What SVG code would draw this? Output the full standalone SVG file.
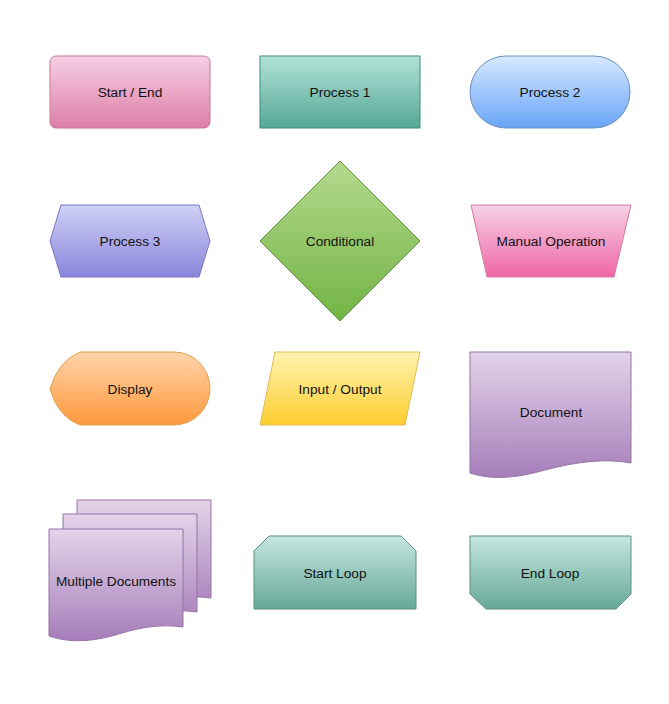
<svg xmlns="http://www.w3.org/2000/svg" width="669" height="704" viewBox="0 0 669 704">
<defs>
<linearGradient id="gPink" x1="0" y1="0" x2="0" y2="1"><stop offset="0" stop-color="#f6d0e4"/><stop offset="1" stop-color="#dc7ea6"/></linearGradient>
<linearGradient id="gTeal" x1="0" y1="0" x2="0" y2="1"><stop offset="0" stop-color="#b2e3d7"/><stop offset="1" stop-color="#56a797"/></linearGradient>
<linearGradient id="gBlue" x1="0" y1="0" x2="0" y2="1"><stop offset="0" stop-color="#d7e8ff"/><stop offset="1" stop-color="#68a5f7"/></linearGradient>
<linearGradient id="gViolet" x1="0" y1="0" x2="0" y2="1"><stop offset="0" stop-color="#d0d1f5"/><stop offset="1" stop-color="#8985db"/></linearGradient>
<linearGradient id="gGreen" x1="0" y1="0" x2="0" y2="1"><stop offset="0" stop-color="#b4d98d"/><stop offset="1" stop-color="#72b444"/></linearGradient>
<linearGradient id="gMagenta" x1="0" y1="0" x2="0" y2="1"><stop offset="0" stop-color="#f6d2e5"/><stop offset="1" stop-color="#ee66a7"/></linearGradient>
<linearGradient id="gOrange" x1="0" y1="0" x2="0" y2="1"><stop offset="0" stop-color="#ffd4aa"/><stop offset="1" stop-color="#ff993c"/></linearGradient>
<linearGradient id="gYellow" x1="0" y1="0" x2="0" y2="1"><stop offset="0" stop-color="#fff4b2"/><stop offset="1" stop-color="#ffcd2e"/></linearGradient>
<linearGradient id="gPurple" x1="0" y1="0" x2="0" y2="1"><stop offset="0" stop-color="#e3d3e9"/><stop offset="1" stop-color="#a67eba"/></linearGradient>
<linearGradient id="gLoop" x1="0" y1="0" x2="0" y2="1"><stop offset="0" stop-color="#c6e7df"/><stop offset="1" stop-color="#66a898"/></linearGradient>
</defs>
<style>
text{font-family:"Liberation Sans",Arial,Helvetica,sans-serif;font-size:13.7px;fill:#111;text-anchor:middle}
.pink{fill:url(#gPink);stroke:#c5799c;stroke-width:1}
.teal{fill:url(#gTeal);stroke:#3f8c7c;stroke-width:1}
.blue{fill:url(#gBlue);stroke:#6c8ebf;stroke-width:1}
.violet{fill:url(#gViolet);stroke:#7a76c4;stroke-width:1}
.green{fill:url(#gGreen);stroke:#5f9337;stroke-width:1}
.magenta{fill:url(#gMagenta);stroke:#d27ba3;stroke-width:1}
.orange{fill:url(#gOrange);stroke:#e09f4e;stroke-width:1}
.yellow{fill:url(#gYellow);stroke:#dcbc58;stroke-width:1}
.purple{fill:url(#gPurple);stroke:#9673a6;stroke-width:1}
.loop{fill:url(#gLoop);stroke:#5c9080;stroke-width:1}
</style>
<rect width="669" height="704" fill="#ffffff"/>
<g id="start-end">
<rect class="pink" x="50" y="56" width="160" height="72" rx="6" ry="6"/>
<text x="130" y="97">Start / End</text>
</g>
<g id="process-1">
<rect class="teal" x="260" y="56" width="160" height="72"/>
<text x="340" y="97">Process 1</text>
</g>
<g id="process-2">
<rect class="blue" x="470" y="56" width="160" height="72" rx="36" ry="36"/>
<text x="550" y="97">Process 2</text>
</g>
<g id="process-3">
<polygon class="violet" points="61,205 199,205 210,241 199,277 61,277 50,241"/>
<text x="130" y="246">Process 3</text>
</g>
<g id="conditional">
<polygon class="green" points="340,161 420,241 340,321 260,241"/>
<text x="340" y="246">Conditional</text>
</g>
<g id="manual-operation">
<polygon class="magenta" points="471,205 631,205 614,277 487,277"/>
<text x="551" y="246">Manual Operation</text>
</g>
<g id="display">
<path class="orange" d="M80,352 L174,352 A36,36.5 0 0 1 174,425 L80,425 Q58,417 50,389 Q58,361 80,352 Z"/>
<text x="130" y="394">Display</text>
</g>
<g id="input-output">
<polygon class="yellow" points="275,352 420,352 405,425 260,425"/>
<text x="340" y="394">Input / Output</text>
</g>
<g id="document">
<path class="purple" d="M470,352 H631 V463 C605,458 575,462 545,470 C520,477 495,481 470,473 Z"/>
<text x="551" y="417">Document</text>
</g>
<g id="multiple-documents">
<path class="purple" d="M77,500 H211 V598 C190,595 170,598 150,604 C125,611 100,614 77,608 Z"/>
<path class="purple" d="M63,514 H197 V612 C176,609 156,612 136,618 C111,625 86,628 63,622 Z"/>
<path class="purple" d="M49,529 H183 V627 C162,624 142,627 122,633 C97,641 72,644 49,636 Z"/>
<text x="116" y="586">Multiple Documents</text>
</g>
<g id="start-loop">
<polygon class="loop" points="269,536 401,536 416,551 416,609 254,609 254,551"/>
<text x="335" y="578">Start Loop</text>
</g>
<g id="end-loop">
<polygon class="loop" points="470,536 631,536 631,594 616,609 486,609 470,594"/>
<text x="550" y="578">End Loop</text>
</g>
<g id="connectors"></g>
</svg>
